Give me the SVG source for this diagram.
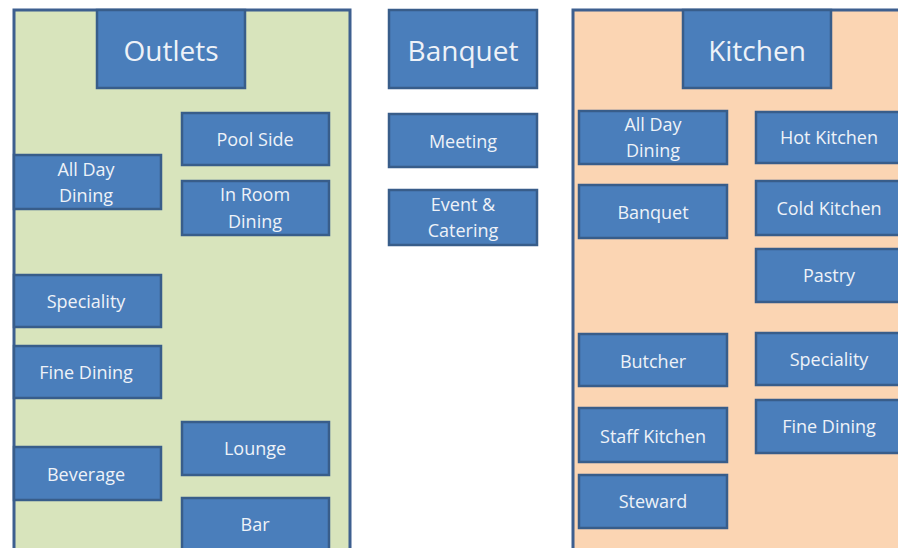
<svg xmlns="http://www.w3.org/2000/svg" width="898" height="548" viewBox="0 0 898 548">
<style>
.bg{fill:#ffffff}
.cont{stroke:#3d5f8f;stroke-width:3}
.green{fill:#d8e4bc}
.orange{fill:#fbd5b3}
.box{fill:#4a7ebb;stroke:#385d8a;stroke-width:2.5}
.t{font-family:"Open Sans","Liberation Sans",Arial,sans-serif;fill:#eef2f8;font-size:18px;font-weight:500;text-anchor:middle;dominant-baseline:central}
.big{font-size:28px}
</style>
<rect class="bg" x="0" y="0" width="898" height="548"/>
<g id="outlets-area">
<rect class="cont green" x="14" y="10" width="336" height="560"/>
</g>
<g id="kitchen-area">
<rect class="cont orange" x="573" y="10" width="340" height="560"/>
</g>
<g id="outlets"><rect class="box" x="97" y="10" width="148" height="78"/><text class="t big" x="171" y="50">Outlets</text></g>
<g id="pool-side"><rect class="box" x="182" y="113" width="147" height="52"/><text class="t" x="255" y="139">Pool Side</text></g>
<g id="all-day-dining-o"><rect class="box" x="14" y="155" width="147" height="54"/><text class="t" x="86" y="169">All Day</text><text class="t" x="86" y="195">Dining</text></g>
<g id="in-room-dining"><rect class="box" x="182" y="181" width="147" height="54"/><text class="t" x="255" y="194">In Room</text><text class="t" x="255" y="221">Dining</text></g>
<g id="speciality-o"><rect class="box" x="14" y="275" width="147" height="52"/><text class="t" x="86" y="301">Speciality</text></g>
<g id="fine-dining-o"><rect class="box" x="14" y="346" width="147" height="52"/><text class="t" x="86" y="372">Fine Dining</text></g>
<g id="lounge"><rect class="box" x="182" y="422" width="147" height="53"/><text class="t" x="255" y="448">Lounge</text></g>
<g id="beverage"><rect class="box" x="14" y="447" width="147" height="53"/><text class="t" x="86" y="474">Beverage</text></g>
<g id="bar"><rect class="box" x="182" y="498" width="147" height="70"/><text class="t" x="255" y="524">Bar</text></g>

<g id="banquet"><rect class="box" x="389" y="10" width="148" height="78"/><text class="t big" x="463" y="50">Banquet</text></g>
<g id="meeting"><rect class="box" x="389" y="114" width="148" height="53"/><text class="t" x="463" y="141">Meeting</text></g>
<g id="event-catering"><rect class="box" x="389" y="190" width="148" height="55"/><text class="t" x="463" y="204">Event &amp;</text><text class="t" x="463" y="230">Catering</text></g>

<g id="kitchen"><rect class="box" x="683" y="10" width="148" height="78"/><text class="t big" x="757" y="50">Kitchen</text></g>
<g id="all-day-dining-k"><rect class="box" x="579" y="111" width="148" height="53"/><text class="t" x="653" y="124">All Day</text><text class="t" x="653" y="150">Dining</text></g>
<g id="hot-kitchen"><rect class="box" x="756" y="112" width="146" height="51"/><text class="t" x="829" y="137">Hot Kitchen</text></g>
<g id="banquet-k"><rect class="box" x="579" y="185" width="148" height="53"/><text class="t" x="653" y="212">Banquet</text></g>
<g id="cold-kitchen"><rect class="box" x="756" y="181" width="146" height="54"/><text class="t" x="829" y="208">Cold Kitchen</text></g>
<g id="pastry"><rect class="box" x="756" y="249" width="146" height="53"/><text class="t" x="829" y="275">Pastry</text></g>
<g id="butcher"><rect class="box" x="579" y="334" width="148" height="52"/><text class="t" x="653" y="361">Butcher</text></g>
<g id="speciality-k"><rect class="box" x="756" y="333" width="146" height="52"/><text class="t" x="829" y="359">Speciality</text></g>
<g id="fine-dining-k"><rect class="box" x="756" y="400" width="146" height="53"/><text class="t" x="829" y="426">Fine Dining</text></g>
<g id="staff-kitchen"><rect class="box" x="579" y="408" width="148" height="54"/><text class="t" x="653" y="436">Staff Kitchen</text></g>
<g id="steward"><rect class="box" x="579" y="475" width="148" height="53"/><text class="t" x="653" y="501">Steward</text></g>
<g id="connectors"></g>
</svg>
